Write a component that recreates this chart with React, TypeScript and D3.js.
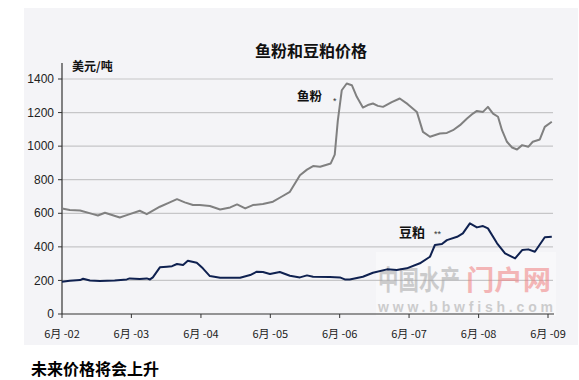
import React from "react";
import * as d3 from "d3";

const fishDates = ["2002-06-01","2002-07-12","2002-09-04","2002-11-11","2002-12-07","2003-01-13","2003-02-19","2003-04-01","2003-05-08","2003-07-15","2003-08-21","2003-10-29","2003-12-20","2004-01-27","2004-03-08","2004-04-20","2004-05-26","2004-07-18","2004-09-10","2004-11-02","2004-12-08","2005-01-20","2005-03-01","2005-04-23","2005-06-15","2005-08-01","2005-09-12","2005-11-04","2005-12-11","2006-01-12","2006-02-18","2006-04-15","2006-05-06","2006-05-22","2006-06-12","2006-07-08","2006-08-04","2006-08-30","2006-10-01","2006-10-27","2006-11-23","2006-12-19","2007-01-15","2007-03-02","2007-04-13","2007-05-25","2007-07-12","2007-08-13","2007-09-19","2007-11-10","2007-12-17","2008-01-18","2008-02-24","2008-04-01","2008-05-02","2008-05-23","2008-06-24","2008-07-20","2008-08-16","2008-09-11","2008-10-02","2008-10-28","2008-11-24","2008-12-20","2009-01-16","2009-02-17","2009-03-13","2009-04-19","2009-05-15","2009-06-21"];
const fishValues = [629,619,617,595,587,603,590,575,589,615,595,639,665,684,665,649,649,643,623,635,653,629,649,655,669,700,728,827,860,881,877,897,950,1150,1333,1373,1363,1294,1230,1245,1254,1240,1234,1262,1284,1250,1204,1085,1056,1075,1079,1095,1125,1165,1194,1210,1204,1234,1194,1175,1095,1026,992,980,1006,996,1026,1040,1115,1145];

const soyDates = ["2002-06-01","2002-07-12","2002-09-04","2002-09-20","2002-10-26","2002-12-17","2003-03-05","2003-05-08","2003-05-23","2003-07-15","2003-08-21","2003-09-07","2003-09-22","2003-10-29","2003-12-05","2004-01-01","2004-01-27","2004-02-28","2004-03-24","2004-05-10","2004-06-11","2004-07-18","2004-09-10","2004-12-24","2005-02-15","2005-03-22","2005-04-23","2005-05-30","2005-07-21","2005-09-12","2005-11-04","2005-12-11","2006-01-12","2006-04-10","2006-06-02","2006-06-28","2006-07-24","2006-10-01","2006-11-23","2007-02-05","2007-03-28","2007-05-20","2007-07-28","2007-09-19","2007-10-15","2007-11-21","2007-12-17","2008-02-09","2008-03-10","2008-04-16","2008-05-23","2008-06-24","2008-07-20","2008-09-06","2008-10-18","2008-12-10","2009-01-16","2009-02-17","2009-03-24","2009-05-15","2009-06-21"];
const soyValues = [192,198,202,210,200,196,200,206,212,208,212,206,218,278,282,285,298,292,317,305,272,226,216,216,232,252,250,238,250,228,218,230,222,220,218,206,206,222,246,266,262,272,302,341,411,417,440,460,480,540,516,524,510,421,361,331,381,385,371,457,460];

const yTicks = [0, 200, 400, 600, 800, 1000, 1200, 1400];
const xTickDates = ["2002-06-01","2003-06-01","2004-06-01","2005-06-01","2006-06-01","2007-06-01","2008-06-01","2009-06-01"];
const xTickLabels = ["6月 -02","6月 -03","6月 -04","6月 -05","6月 -06","6月 -07","6月 -08","6月 -09"];

const title = "鱼粉和豆粕价格";
const unitLabel = "美元/吨";
const fishLabel = "鱼粉";
const soyLabel = "豆粕";
const caption = "未来价格将会上升";

export default function App() {
  const parse = d3.timeParse("%Y-%m-%d");
  const x = d3.scaleTime()
    .domain([parse("2002-06-01") as Date, parse("2009-06-01") as Date])
    .range([62, 548]);
  const y = d3.scaleLinear().domain([0, 1400]).range([314, 79]);

  const line = d3.line<[Date, number]>()
    .x((d) => x(d[0]))
    .y((d) => y(d[1]));

  const fishData: [Date, number][] = fishDates.map((d, i) => [parse(d) as Date, fishValues[i]]);
  const soyData: [Date, number][] = soyDates.map((d, i) => [parse(d) as Date, soyValues[i]]);

  const latin = "'Liberation Sans', Arial, sans-serif";
  const cjk = "'Noto Sans CJK SC', 'Liberation Sans', sans-serif";

  return (
    <svg width={579} height={380} style={{ position: "absolute", left: 0, top: 0, background: "#fff" }}>
      <rect x={24} y={8} width={554} height={337} fill="#f4f4f7" />
      {/* watermark backdrop */}
      <rect x={376} y={252} width={180} height={64} fill="#ffffff" opacity={0.35} />
      {/* gridlines */}
      {yTicks.filter((t) => t > 0).map((t) => (
        <line key={t} x1={62} x2={553} y1={y(t)} y2={y(t)} stroke="#c6c6c8" strokeWidth={1.2} />
      ))}
      {/* watermark */}
      <g opacity={0.55}>
        <g transform="translate(378,290) scale(0.76,1)">
          <text x={0} y={0} fontFamily={cjk} fontSize={27} fontWeight={700} fill="#a8a8a8">中国水产</text>
        </g>
        <g transform="translate(466,290) scale(1.05,1)">
          <text x={0} y={0} fontFamily={cjk} fontSize={27} fontWeight={700} fill="#f08080">门户网</text>
        </g>
        <text x={378} y={312} fontFamily={latin} fontSize={14} fontWeight={700} fill="#a8a8a8"
          textLength={175} lengthAdjust="spacing">www.bbwfish.com</text>
      </g>
      {/* axes */}
      <line x1={62} x2={62} y1={63} y2={314} stroke="#333" strokeWidth={1.2} />
      <line x1={62} x2={554} y1={314} y2={314} stroke="#333" strokeWidth={1.2} />
      {yTicks.map((t) => (
        <g key={t}>
          <line x1={58} x2={62} y1={y(t)} y2={y(t)} stroke="#333" />
          <text x={54} y={y(t)} dy="0.35em" textAnchor="end" fontFamily={latin} fontSize={12} fill="#222">{t}</text>
        </g>
      ))}
      {xTickDates.map((d, i) => {
        const px = x(parse(d) as Date);
        return (
          <g key={d}>
            <line x1={px} x2={px} y1={314} y2={318} stroke="#333" />
            <text x={px} y={334} dy="0.35em" textAnchor="middle" fontFamily={cjk} fontSize={11} fill="#222">{xTickLabels[i]}</text>
          </g>
        );
      })}
      {/* series */}
      <path d={line(fishData) || ""} fill="none" stroke="#808080" strokeWidth={2} strokeLinejoin="round" />
      <path d={line(soyData) || ""} fill="none" stroke="#0f2150" strokeWidth={2} strokeLinejoin="round" />
      {/* labels */}
      <text x={311} y={57} textAnchor="middle" fontFamily={cjk} fontSize={16} fontWeight={700} fill="#111">{title}</text>
      <text x={72} y={71} fontFamily={cjk} fontSize={12} fontWeight={700} fill="#111">{unitLabel}</text>
      <text x={297} y={101} fontFamily={cjk} fontSize={12.5} fontWeight={700} fill="#111">{fishLabel}</text>
      <text x={333} y={104} fontFamily={latin} fontSize={9} fill="#333">*</text>
      <text x={399} y={237} fontFamily={cjk} fontSize={13} fontWeight={700} fill="#111">{soyLabel}</text>
      <text x={434} y={237} fontFamily={latin} fontSize={9} fill="#333">**</text>
      <text x={31} y={375} fontFamily={cjk} fontSize={16} fontWeight={700} fill="#000">{caption}</text>
    </svg>
  );
}
